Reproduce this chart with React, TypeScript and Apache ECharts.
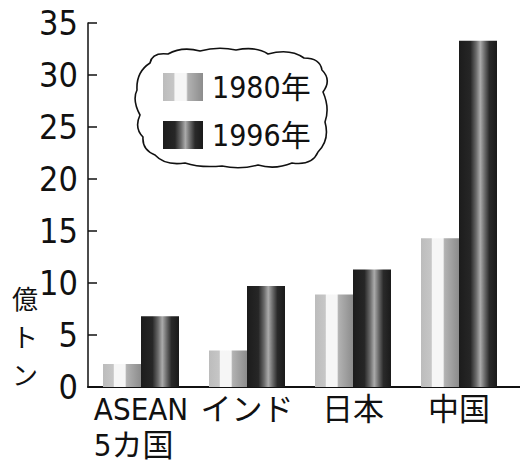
import React, { useEffect, useRef } from "react";
import * as echarts from "echarts";

const categories = ["ASEAN\n5カ国", "インド", "日本", "中国"];
const seriesNames = ["1980年", "1996年"];
const values1980 = [2.2, 3.5, 8.9, 14.3];
const values1996 = [6.8, 9.7, 11.3, 33.3];
const yTicks = { min: 0, max: 35, interval: 5 };
const yAxisNameChars = ["億", "ト", "ン"];

const FONT = '"DejaVu Sans Condensed", "Noto Sans CJK JP", sans-serif';

const cloudPath =
  "M 150 63 Q 152 52 168 54 Q 182 46 200 51 Q 218 46 236 50 Q 256 46 268 54 Q 290 48 304 58 Q 320 58 322 70 Q 332 80 323 92 Q 330 108 325 122 Q 330 140 318 152 Q 312 166 292 163 Q 275 170 258 165 Q 240 170 222 166 Q 200 168 185 163 Q 165 166 155 155 Q 142 150 143 137 Q 134 128 140 115 Q 132 100 137 90 Q 136 72 150 63 Z";

let registered = false;
function registerCloud() {
  if (registered) return;
  echarts.graphic.registerShape("cloud", echarts.graphic.extendPath(cloudPath, {}) as any);
  registered = true;
}

const grad1980 = new echarts.graphic.LinearGradient(0, 0, 1, 0, [
  { offset: 0, color: "#bcbcbc" },
  { offset: 0.27, color: "#c6c6c6" },
  { offset: 0.3, color: "#f6f6f6" },
  { offset: 0.58, color: "#f6f6f6" },
  { offset: 0.62, color: "#b2b2b2" },
  { offset: 1, color: "#8c8c8c" },
]);

const grad1996 = new echarts.graphic.LinearGradient(0, 0, 1, 0, [
  { offset: 0, color: "#1c1c1c" },
  { offset: 0.3, color: "#262626" },
  { offset: 0.45, color: "#6a6a6a" },
  { offset: 0.56, color: "#ababab" },
  { offset: 0.68, color: "#686868" },
  { offset: 0.8, color: "#2a2a2a" },
  { offset: 1, color: "#1a1a1a" },
]);

const nameCenters = [297, 335, 373];

export default function App() {
  const ref = useRef<HTMLDivElement>(null);
  useEffect(() => {
    if (!ref.current) return;
    document.body.style.margin = "0";
    registerCloud();
    const chart = echarts.init(ref.current, null, { renderer: "svg" });
    chart.setOption({
      animation: false,
      backgroundColor: "#ffffff",
      textStyle: { fontFamily: FONT, color: "#111" },
      grid: { left: 88, right: 8, top: 23, bottom: 77, outerBoundsMode: "none", containLabel: false },
      legend: {
        orient: "vertical",
        left: 163,
        top: 72,
        padding: 0,
        itemWidth: 40,
        itemHeight: 28,
        itemGap: 18,
        icon: "rect",
        selectedMode: false,
        data: seriesNames,
        textStyle: {
          fontFamily: FONT,
          fontSize: 30,
          color: "#111",
          padding: [0, 0, 0, 4],
        },
      },
      xAxis: {
        type: "category",
        data: categories,
        axisLine: { show: true, lineStyle: { color: "#111", width: 2 } },
        axisTick: { show: false },
        axisLabel: {
          interval: 0,
          margin: 4,
          color: "#111",
          fontFamily: FONT,
          fontSize: 31,
          lineHeight: 36,
          formatter: (v: string) => {
            if (v.indexOf("\n") >= 0) {
              const parts = v.split("\n");
              return parts.map((p) => `{l|${p}}`).join("\n");
            }
            return v;
          },
          rich: {
            l: {
              align: "left",
              fontFamily: FONT,
              fontSize: 31,
              lineHeight: 36,
              color: "#111",
            },
          },
        },
      },
      yAxis: {
        type: "value",
        min: yTicks.min,
        max: yTicks.max,
        interval: yTicks.interval,
        axisLine: { show: true, lineStyle: { color: "#111", width: 1.5 } },
        axisTick: { show: true, inside: true, length: 9, lineStyle: { color: "#111", width: 1.5 } },
        splitLine: { show: false },
        axisLabel: {
          margin: 10,
          color: "#111",
          fontFamily: FONT,
          fontSize: 34,
        },
      },
      graphic: [
        {
          type: "cloud",
          x: 0,
          y: 0,
          z: 1,
          style: { fill: "transparent", stroke: "#111", lineWidth: 1.6 },
        },
        {
          type: "line",
          shape: { x1: 510, y1: 387, x2: 520, y2: 387 },
          style: { stroke: "#111", lineWidth: 2 },
        },
        ...yAxisNameChars.map((ch, i) => ({
          type: "text",
          x: 25,
          y: nameCenters[i],
          style: {
            text: ch,
            fontFamily: '"Noto Sans CJK JP", sans-serif',
            fontSize: 26,
            lineHeight: 28,
            align: "center",
            verticalAlign: "middle",
            fill: "#111",
          },
        })),
      ],
      series: [
        {
          name: seriesNames[0],
          type: "bar",
          data: values1980,
          barWidth: 38,
          barGap: "0%",
          itemStyle: { color: grad1980 },
        },
        {
          name: seriesNames[1],
          type: "bar",
          data: values1996,
          barWidth: 38,
          barGap: "0%",
          itemStyle: { color: grad1996 },
        },
      ],
    });
    return () => chart.dispose();
  }, []);
  return <div ref={ref} style={{ width: 520, height: 464 }} />;
}
